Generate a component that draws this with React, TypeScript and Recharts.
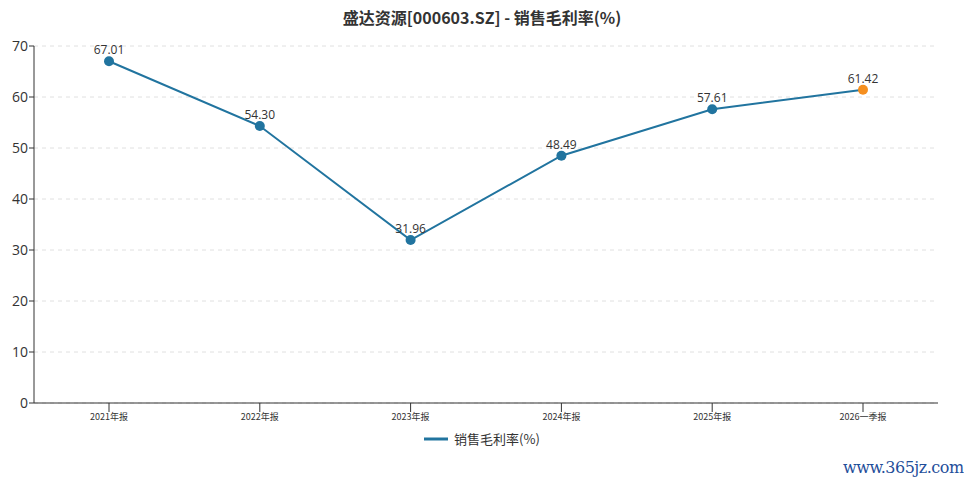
import React from "react";
import { LineChart, Line, XAxis, YAxis, CartesianGrid, LabelList } from "recharts";

const categories = ["2021年报", "2022年报", "2023年报", "2024年报", "2025年报", "2026一季报"];
const grossMargin = [67.01, 54.3, 31.96, 48.49, 57.61, 61.42];
const yTicks = [0, 10, 20, 30, 40, 50, 60, 70];

const data = categories.map((c, i) => ({ name: c, value: grossMargin[i] }));

const BLUE = "#21749f";
const ORANGE = "#f58f1f";

const Dot = (props: any) => {
  const { cx, cy, index } = props;
  if (cx == null || cy == null) return null;
  const fill = index === data.length - 1 ? ORANGE : BLUE;
  return <circle cx={cx} cy={cy} r={5} fill={fill} stroke="none" />;
};

export default function App() {
  return (
    <div style={{ position: "absolute", left: 0, top: 0, width: 964, height: 485, background: "#fff" }}>
      <div style={{ position: "absolute", left: 0, top: 5, width: 964, textAlign: "center", fontFamily: "'Noto Sans CJK SC', sans-serif", fontWeight: "bold", fontSize: 16, color: "#333" }}>
        盛达资源[000603.SZ] - 销售毛利率(%)
      </div>
      <LineChart width={964} height={485} data={data} margin={{ top: 46, right: 26, left: 0, bottom: 56 }}>
        <CartesianGrid vertical={false} stroke="#e0e0e0" strokeDasharray="4 4" />
        <XAxis
          dataKey="name"
          tick={{ fontSize: 9, fill: "#333", fontFamily: "'Noto Sans CJK SC', sans-serif" }}
          tickLine={{ stroke: "#333" }}
          axisLine={{ stroke: "#333" }}
          tickSize={9}
          height={26}
          interval={0}
          padding={{ left: 75, right: 75 }}
        />
        <YAxis
          width={34}
          domain={[0, 70]}
          ticks={yTicks}
          tick={{ fontSize: 14, fill: "#333", fontFamily: "'Open Sans', sans-serif" }}
          tickLine={{ stroke: "#333" }}
          axisLine={{ stroke: "#333" }}
          tickSize={5}
          tickMargin={1}
        />
        <Line
          type="linear"
          dataKey="value"
          stroke={BLUE}
          strokeWidth={2}
          dot={<Dot />}
          activeDot={false}
          isAnimationActive={false}
          name="销售毛利率(%)"
        >
          <LabelList dataKey="value" position="top" offset={7} formatter={(v: any) => Number(v).toFixed(2)} style={{ fontSize: 12, fill: "#333", fontFamily: "'Open Sans', sans-serif" }} />
        </Line>
      </LineChart>
      <div style={{ position: "absolute", left: 0, top: 429, width: 964, display: "flex", justifyContent: "center", alignItems: "center", fontFamily: "'Noto Sans CJK SC', sans-serif", fontSize: 13, color: "#333" }}>
        <svg width={24} height={10} style={{ marginRight: 6 }}>
          <line x1={0} y1={5} x2={24} y2={5} stroke={BLUE} strokeWidth={3} />
        </svg>
        <span>销售毛利率(%)</span>
      </div>
      <div style={{ position: "absolute", left: 843, top: 458, fontFamily: "'DejaVu Serif', serif", fontSize: 16, color: "#1f4e9a", letterSpacing: -0.5 }}>
        www.365jz.com
      </div>
    </div>
  );
}
